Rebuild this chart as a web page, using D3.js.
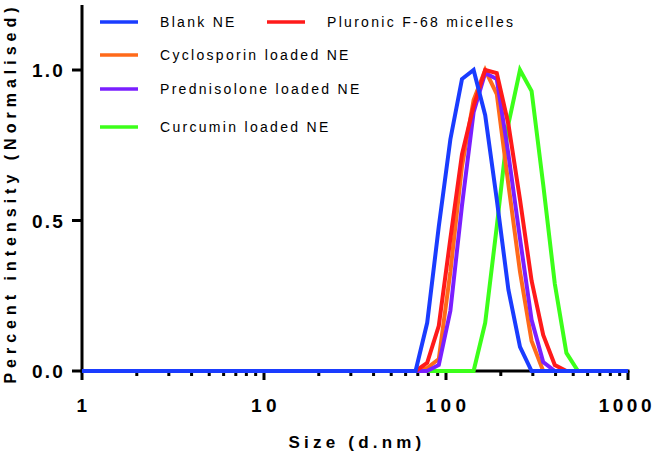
<!DOCTYPE html>
<html>
<head>
<meta charset="utf-8">
<script src="https://cdn.jsdelivr.net/npm/d3@7"></script>
<style>
body { margin:0; background:#fff; }
text { font-family: "Liberation Sans", Arial, sans-serif; }
</style>
</head>
<body>
<script>
// size bins (d.nm) and normalised intensities
var blankSize   = [1, 68.06, 78.82, 91.28, 105.7, 122.4, 141.8, 164.2, 190.1, 220.2, 255.0, 295.3, 1000];
var blankVal    = [0, 0,     0.16,  0.48,  0.77,  0.97,  1.0,   0.85,  0.57,  0.27,  0.08,  0,     0];

var pluronicSize = [1, 68.06, 78.82, 91.28, 105.7, 122.4, 141.8, 164.2, 190.1, 220.2, 255.0, 295.3, 342.0, 396.1, 458.7, 1000];
var pluronicVal  = [0, 0,     0.027, 0.15,  0.44,  0.72,  0.88,  1.0,   0.99,  0.82,  0.57,  0.30,  0.12,  0.02,  0,     0];

var cycloSize = [1, 68.06, 78.82, 91.28, 105.7, 122.4, 141.8, 164.2, 190.1, 220.2, 255.0, 295.3, 342.0, 1000];
var cycloVal  = [0, 0,     0.01,  0.04,  0.33,  0.68,  0.9,   1.0,   0.92,  0.62,  0.33,  0.10,  0,     0];

var predSize = [1, 78.82, 91.28, 105.7, 122.4, 141.8, 164.2, 190.1, 220.2, 255.0, 295.3, 342.0, 396.1, 1000];
var predVal  = [0, 0,     0.02,  0.2,   0.55,  0.86,  0.99,  0.97,  0.72,  0.44,  0.17,  0.03,  0,     0];

var curcSize = [1, 141.8, 164.2, 190.1, 220.2, 255.0, 295.3, 342.0, 396.1, 458.7, 531.2, 1000];
var curcVal  = [0, 0,     0.16,  0.48,  0.82,  1.0,   0.93,  0.62,  0.29,  0.06,  0,     0];

var seriesNames  = ["Curcumin loaded NE", "Cyclosporin loaded NE", "Prednisolone loaded NE", "Pluronic F-68 micelles", "Blank NE"];
var seriesSizes  = [curcSize, cycloSize, predSize, pluronicSize, blankSize];
var seriesValues = [curcVal, cycloVal, predVal, pluronicVal, blankVal];
var seriesColors = ["#3cff1a", "#ff6a1a", "#7a1fff", "#ff1a1a", "#1a3cff"];

var xTicks = [1, 10, 100, 1000];
var yTicks = [0, 0.5, 1.0];

var W = 654, H = 451;
var svg = d3.select("body").append("svg").attr("width", W).attr("height", H);

var x = d3.scaleLog().domain([1, 1000]).range([82, 628]);
var y = d3.scaleLinear().domain([0, 1.216]).range([371, 5]);

// y axis
svg.append("line").attr("x1", 82).attr("x2", 82).attr("y1", 5).attr("y2", 372.5)
  .attr("stroke", "black").attr("stroke-width", 3);
svg.selectAll(".ytick").data(yTicks).enter().append("line")
  .attr("x1", 72).attr("x2", 82).attr("y1", function(d){ return y(d); }).attr("y2", function(d){ return y(d); })
  .attr("stroke", "black").attr("stroke-width", 3);
svg.selectAll(".ylab").data(yTicks).enter().append("text")
  .text(function(d){ return d.toFixed(1); })
  .attr("x", 65).attr("y", function(d){ return y(d) + 7; })
  .attr("text-anchor", "end").attr("font-size", 19).attr("font-weight", "bold")
  .attr("letter-spacing", 2.2);

// x axis
svg.append("line").attr("x1", 80.5).attr("x2", 629.5).attr("y1", 371).attr("y2", 371)
  .attr("stroke", "black").attr("stroke-width", 3);
var minor = [];
for (var e = 0; e < 3; e++) for (var m = 2; m <= 9; m++) minor.push(m * Math.pow(10, e));
svg.selectAll(".xminor").data(minor).enter().append("line")
  .attr("x1", function(d){ return x(d); }).attr("x2", function(d){ return x(d); })
  .attr("y1", 371).attr("y2", 376).attr("stroke", "black").attr("stroke-width", 3);
svg.selectAll(".xmajor").data(xTicks).enter().append("line")
  .attr("x1", function(d){ return x(d); }).attr("x2", function(d){ return x(d); })
  .attr("y1", 371).attr("y2", 380).attr("stroke", "black").attr("stroke-width", 3);
svg.selectAll(".xlab").data(xTicks).enter().append("text")
  .text(function(d){ return d; })
  .attr("x", function(d){ return d === 1000 ? 655 : x(d) + 2; }).attr("y", 412)
  .attr("text-anchor", function(d){ return d === 1000 ? "end" : "middle"; })
  .attr("font-size", 19).attr("font-weight", "bold")
  .attr("letter-spacing", function(d){ return d === 1000 ? 3.5 : 4.5; });

// axis titles
svg.append("text").text("Size (d.nm)").attr("x", 357).attr("y", 448)
  .attr("text-anchor", "middle").attr("font-size", 17).attr("font-weight", "bold").attr("letter-spacing", 4.2);
svg.append("text").text("Percent intensity (Normalised)")
  .attr("transform", "translate(16,193) rotate(-90)")
  .attr("text-anchor", "middle").attr("font-size", 16).attr("font-weight", "bold").attr("letter-spacing", 5);

// data lines
var line = d3.line().x(function(d){ return x(d[0]); }).y(function(d){ return y(d[1]); });
seriesSizes.forEach(function(s, i){
  var pts = s.map(function(v, j){ return [v, seriesValues[i][j]]; });
  svg.append("path").attr("d", line(pts)).attr("fill", "none")
    .attr("stroke", seriesColors[i]).attr("stroke-width", 4).attr("stroke-linejoin", "miter");
});

// legend
var legend = [
  {name: "Blank NE", color: seriesColors[4], lx: 100, ly: 22},
  {name: "Pluronic F-68 micelles", color: seriesColors[3], lx: 267, ly: 22},
  {name: "Cyclosporin loaded NE", color: seriesColors[1], lx: 100, ly: 55},
  {name: "Prednisolone loaded NE", color: seriesColors[2], lx: 100, ly: 89},
  {name: "Curcumin loaded NE", color: seriesColors[0], lx: 100, ly: 127}
];
legend.forEach(function(d){
  svg.append("line").attr("x1", d.lx).attr("x2", d.lx + 38).attr("y1", d.ly).attr("y2", d.ly)
    .attr("stroke", d.color).attr("stroke-width", 3.5);
  svg.append("text").text(d.name).attr("x", d.lx + 60).attr("y", d.ly + 5)
    .attr("font-size", 14).attr("letter-spacing", 2.3);
});
</script>
</body>
</html>
